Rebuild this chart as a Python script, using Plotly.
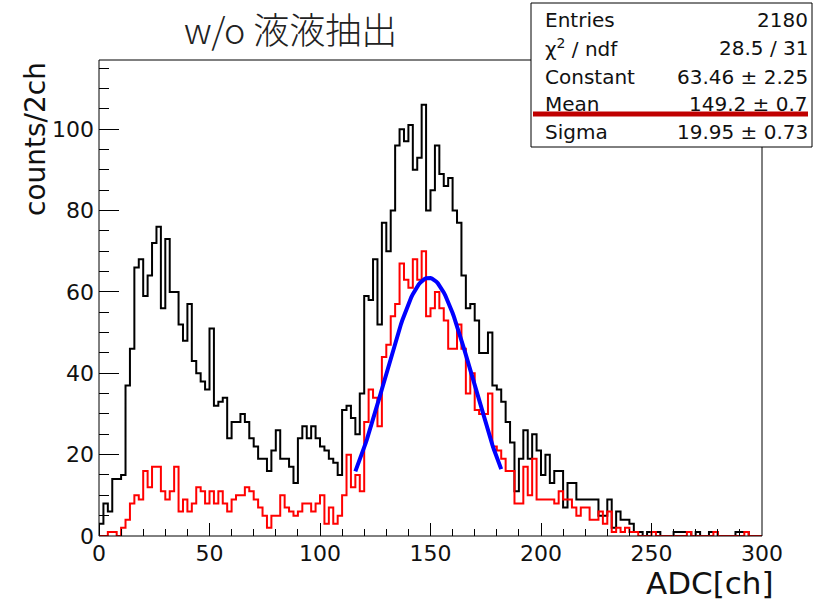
import numpy as np
import plotly.graph_objects as go

# ---- data (150 bins of 2 ch, 0..300) ----
bin_width = 2
black_counts = [
    3, 8, 6, 14, 14, 15, 37, 46, 66, 68,
    59, 64, 72, 76, 56, 73, 60, 60, 52, 48,
    57, 43, 40, 38, 36, 51, 32, 33, 34, 24,
    28, 28, 30, 28, 24, 22, 19, 19, 16, 21,
    26, 19, 19, 17, 13, 24, 27, 24, 27, 24,
    22, 21, 19, 18, 15, 31, 32, 29, 25, 35,
    59, 58, 68, 52, 77, 70, 80, 96, 100, 97,
    101, 90, 93, 106, 80, 85, 96, 89, 86, 88,
    80, 77, 64, 56, 57, 53, 45, 45, 50, 37,
    36, 33, 28, 23, 11, 19, 26, 19, 25, 21,
    15, 20, 13, 16, 16, 7, 13, 13, 9, 9,
    9, 9, 9, 5, 5, 9, 2, 6, 4, 4,
    3, 1, 1, 0, 1, 1, 1, 0, 0, 0,
    1, 1, 1, 1, 0, 1, 0, 0, 1, 1,
    0, 0, 0, 0, 1, 1, 1, 0, 0, 0,
]
red_counts = [
    0, 0, 1, 1, 0, 2, 4, 8, 10, 9,
    16, 12, 17, 17, 11, 9, 11, 17, 6, 9,
    6, 8, 12, 11, 8, 11, 8, 11, 8, 6,
    9, 10, 10, 12, 11, 9, 7, 5, 2, 5,
    5, 10, 7, 6, 5, 6, 8, 8, 6, 8,
    10, 3, 7, 3, 5, 10, 20, 12, 15, 11,
    28, 36, 34, 27, 44, 47, 54, 57, 67, 63,
    61, 68, 63, 70, 54, 56, 60, 56, 53, 46,
    46, 52, 46, 35, 40, 31, 30, 30, 35, 22,
    21, 19, 16, 16, 8, 8, 17, 10, 19, 9,
    9, 9, 9, 8, 11, 9, 9, 7, 5, 7,
    7, 4, 4, 6, 3, 6, 1, 2, 1, 2,
    1, 1, 0, 0, 0, 1, 0, 0, 0, 0,
    0, 0, 0, 1, 0, 0, 0, 0, 0, 1,
    0, 0, 0, 0, 0, 0, 1, 0, 0, 0,
]

# Gaussian fit results (stats box)
fit_constant = 63.46
fit_mean = 149.2
fit_sigma = 19.95
fit_range = [116, 182]

stats_labels = ["Entries", "χ<sup>2</sup> / ndf", "Constant", "Mean", "Sigma"]
stats_values = ["2180", "28.5 / 31", "63.46 ± 2.25", "149.2 ± 0.7", "19.95 ± 0.73"]

x_ticks = [0, 50, 100, 150, 200, 250, 300]
y_ticks = [0, 20, 40, 60, 80, 100]

# ---- layout geometry (screen pixels; body margin removed below) ----
W, H = 817, 603
FL, FR, FT, FB = 99, 762, 60, 536          # frame edges on screen
L, T = FL, FT
R = W - FR
B = H - FB
pw, ph = W - L - R, H - T - B


def px(x):
    return (x - FL) / pw


def py(y):
    return (FB - y) / ph


def steps(counts):
    n = len(counts)
    edges = [i * bin_width for i in range(n + 1)]
    xs = [edges[0]] + edges + [edges[-1]]
    ys = [0] + list(counts) + [counts[-1], 0]
    return xs, ys


fig = go.Figure()

bx, by = steps(black_counts)
fig.add_trace(go.Scatter(x=bx, y=by, mode="lines", line=dict(color="black", width=2, shape="hv"),
                         hoverinfo="skip", showlegend=False))
rx, ry = steps(red_counts)
fig.add_trace(go.Scatter(x=rx, y=ry, mode="lines", line=dict(color="#ff0000", width=2, shape="hv"),
                         hoverinfo="skip", showlegend=False))

gx = np.linspace(fit_range[0], fit_range[1], 100)
gy = fit_constant * np.exp(-0.5 * ((gx - fit_mean) / fit_sigma) ** 2)
fig.add_trace(go.Scatter(x=gx, y=gy, mode="lines", line=dict(color="#0000ff", width=4),
                         hoverinfo="skip", showlegend=False))

sans = "DejaVu Sans, Liberation Sans, Arial, sans-serif"
tick_font = dict(family=sans, size=22, color="#111")

fig.update_layout(
    width=W, height=H,
    margin=dict(l=L, r=R, t=T, b=B, autoexpand=False),
    paper_bgcolor="white", plot_bgcolor="white",
    showlegend=False,
    xaxis=dict(range=[0, 300], tickvals=x_ticks, ticks="inside", ticklen=13, tickwidth=1,
               tickcolor="black", showgrid=False, zeroline=False, showline=False,
               tickfont=tick_font, ticklabelstandoff=2,
               minor=dict(dtick=10, ticks="inside", ticklen=7, tickcolor="black", tickwidth=1, showgrid=False)),
    yaxis=dict(range=[0, 117], tickvals=y_ticks, ticks="inside", ticklen=20, tickwidth=1,
               tickcolor="black", showgrid=False, zeroline=False, showline=False,
               tickfont=tick_font, ticklabelstandoff=4,
               minor=dict(dtick=5, ticks="inside", ticklen=10, tickcolor="black", tickwidth=1, showgrid=False)),
)

shapes = [
    # frame
    dict(type="rect", xref="paper", yref="paper", x0=0, x1=1, y0=0, y1=1,
         line=dict(color="black", width=1), fillcolor="rgba(0,0,0,0)", layer="above"),
    # stats box
    dict(type="rect", xref="paper", yref="paper", x0=px(531), x1=px(812), y0=py(147), y1=py(3),
         line=dict(color="black", width=1), fillcolor="white", layer="above"),
    # red underline in the stats box
    dict(type="line", xref="paper", yref="paper", x0=px(533), x1=px(808), y0=py(114), y1=py(114),
         line=dict(color="#c00000", width=5), layer="above"),
]
fig.update_layout(shapes=shapes)

stat_font = dict(family=sans, size=20, color="#111")
row_y = [20, 48, 77, 104, 132]
ann = []
for lab, val, yy in zip(stats_labels, stats_values, row_y):
    ann.append(dict(xref="paper", yref="paper", x=px(543), y=py(yy), xanchor="left", yanchor="middle",
                    text=lab, showarrow=False, font=stat_font))
    ann.append(dict(xref="paper", yref="paper", x=px(810), y=py(yy), xanchor="right", yanchor="middle",
                    text=val, showarrow=False, font=stat_font))

ann.append(dict(xref="paper", yref="paper", x=px(35), y=1.0, xanchor="center", yanchor="top",
                text="counts/2ch", textangle=-90, showarrow=False,
                font=dict(family=sans, size=28, color="#111")))
ann.append(dict(xref="paper", yref="paper", x=px(776), y=py(583), xanchor="right", yanchor="middle",
                text="ADC[ch]", showarrow=False,
                font=dict(family=sans, size=31, color="#111")))
ann.append(dict(xref="paper", yref="paper", x=px(290), y=py(28), xanchor="center", yanchor="middle",
                text="w/o 液液抽出", showarrow=False,
                font=dict(family="Noto Sans CJK JP, Noto Sans, sans-serif", size=36, color="#222", weight=300)))
fig.update_layout(annotations=ann)

fig.write_html("out.html",
               config={"displayModeBar": False},
               post_script="document.body.style.margin='0px';document.body.style.overflow='hidden';")
